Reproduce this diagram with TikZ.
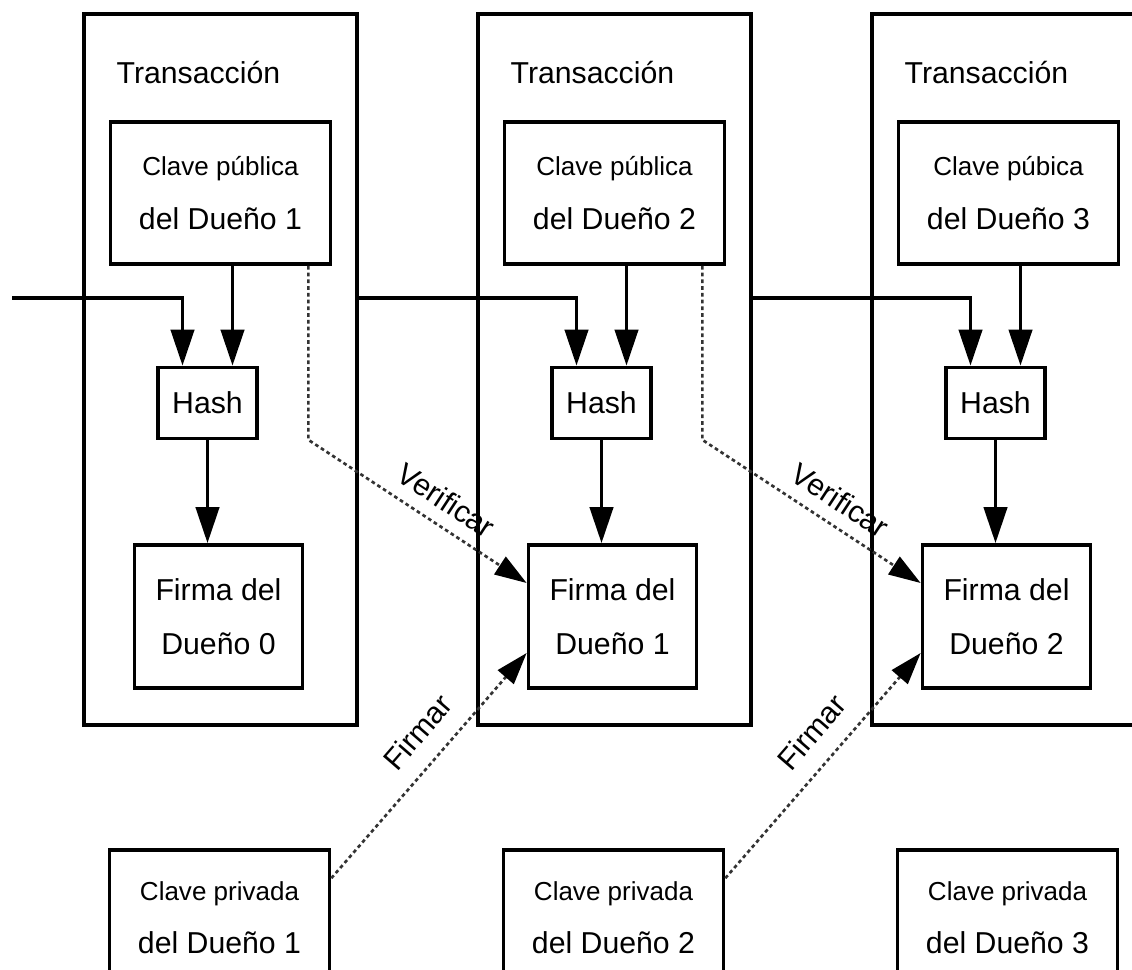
\documentclass[tikz,border=0pt]{standalone}
\usepackage{fontspec}
\setmainfont{Liberation Sans}
\usetikzlibrary{arrows.meta, positioning, calc}

\begin{document}
\begin{tikzpicture}[
    x=0.025cm, y=-0.025cm,
    line width=2.6pt,
    font=\fontsize{21.5}{38}\selectfont,
    txbox/.style={draw, minimum width=6.825cm, minimum height=17.775cm, inner sep=0pt},
    keybox/.style={draw, align=center, minimum width=5.5cm, minimum height=3.55cm, inner sep=0pt},
    hashbox/.style={draw, minimum width=2.475cm, minimum height=1.775cm, inner sep=0pt},
    sigbox/.style={draw, align=center, minimum width=4.2cm, minimum height=3.575cm, inner sep=0pt},
    link/.style={-{Triangle[length=0.9cm, width=0.58cm]}},
    dotlink/.style={draw=black!80, line width=1.9pt, dash pattern=on 2.6pt off 2.2pt,
        -{Triangle[length=0.8cm, width=0.52cm, color=black, fill=black]}},
    labelstyle/.style={sloped, above, inner sep=9pt}
]
    \useasboundingbox (0,0) rectangle (1132,969);
    \clip (0,0) rectangle (1132,969);

    % Transaction columns
    \foreach \i/\pub/\prev in {1/pública/0, 2/pública/1, 3/púbica/2} {
        \node [txbox] (t\i) at ({220.5+394*(\i-1)}, 369.5) {};
        \node [anchor=base west] (tlabel\i) at ($(t\i.north west)+(28,71)$) {Transacción};
        \node [keybox] (pub\i) at ($(t\i)+(0,-176.5)$) {{\fontsize{18.5}{38}\selectfont Clave \pub}\\del Dueño \i};
        \node [hashbox] (hash\i) at ($(t\i)+(-13,33.5)$) {Hash};
        \node [sigbox] (sig\i) at ($(t\i)+(-2,247)$) {Firma del\\Dueño \prev};
        \node [keybox, minimum height=3.375cm] (priv\i) at ($(t\i)+(-1,548)$) {{\fontsize{18.5}{38}\selectfont Clave privada}\\del Dueño \i};

        \coordinate (hain\i) at ($(hash\i.north)+(-25,0)$);
        \coordinate (hbin\i) at ($(hash\i.north)+(25,0)$);
        \draw [link] (pub\i.south -| hbin\i) -- (hbin\i);
        \draw [link] (hash\i.south) -- (hash\i.south |- sig\i.north);
    }

    % Hash chain
    \coordinate (start) at (12, 298);
    \draw [link] (start) -| (hain1);
    \foreach \i/\j in {1/2, 2/3} {
        \draw [link] (t\i.east |- start) -| (hain\j);
    }

    % Verify and sign
    \foreach \i/\j in {1/2, 2/3} {
        \coordinate (vtop\i) at ($(pub\i.south east)+(-24,0)$);
        \draw [dotlink] (vtop\i) -- ++(0,174) -- ($(sig\j.west)+(0,-33.5)$)
            node [labelstyle, pos=0.57] (verify\i) {Verificar};
        \draw [dotlink] ($(priv\i.north east)+(0,30)$) -- ($(sig\j.west)+(0,36.5)$)
            node [labelstyle, pos=0.56, inner sep=13pt] (sign\i) {Firmar};
    }
\end{tikzpicture}
\end{document}
